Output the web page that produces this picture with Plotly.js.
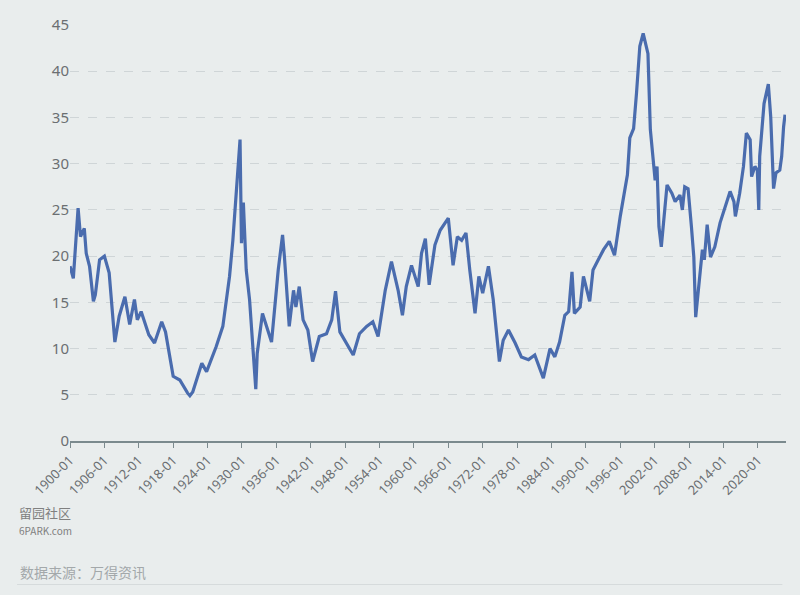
<!DOCTYPE html>
<html>
<head>
<meta charset="utf-8">
<script src="https://cdn.plot.ly/plotly-3.0.1.min.js"></script>
<style>
html,body{margin:0;padding:0;background:#e9eded;}
#chart{width:800px;height:595px;}
</style>
</head>
<body>
<div id="chart"></div>
<script>
const months = [
"1900-01","1900-04","1900-08","1900-11","1901-06","1901-11","1902-07","1902-11","1903-06","1904-02",
"1904-06","1905-03","1906-01","1906-11","1907-11","1908-08","1909-08","1910-06","1911-04","1911-10",
"1912-06","1913-10","1914-10","1916-01","1916-09","1918-01","1919-03","1920-07","1920-12","1921-06",
"1923-01","1923-11","1925-07","1926-09","1927-11","1928-06","1929-01","1929-04","1929-09","1929-12",
"1930-04","1930-10","1931-05","1932-06","1932-09","1933-08","1934-04","1935-03","1936-05","1937-02",
"1937-06","1938-04","1939-01","1939-06","1940-01","1940-09","1941-07","1942-05","1943-07","1944-10",
"1945-09","1946-05","1947-02","1948-04","1949-06","1950-07","1951-10","1952-11","1953-10","1955-01",
"1956-02","1957-04","1958-01","1958-09","1959-08","1960-10","1961-05","1962-01","1962-09","1963-09",
"1964-08","1966-01","1966-04","1966-11","1967-08","1968-05","1969-02","1969-10","1970-09","1971-05",
"1972-01","1973-01","1973-11","1974-12","1975-08","1976-07","1977-09","1978-10","1980-01","1981-02",
"1982-08","1983-10","1984-08","1985-06","1986-05","1987-01","1987-08","1988-01","1989-01","1989-08",
"1990-09","1991-04","1992-03","1993-02","1994-02","1995-01","1996-01","1996-06","1997-04","1997-09",
"1998-05","1998-11","1999-06","2000-01","2000-06","2000-11","2001-04","2001-10","2002-02","2002-06",
"2002-10","2003-03","2003-08","2004-03","2005-01","2005-08","2006-06","2006-11","2007-04","2007-11",
"2008-06","2008-11","2009-03","2009-10","2010-05","2010-09","2011-03","2011-10","2012-07","2013-06",
"2014-02","2015-03","2015-11","2016-02","2016-11","2017-07","2018-01","2018-09","2018-12","2019-07",
"2019-12","2020-03","2020-05","2021-02","2021-11","2022-04","2022-10","2023-03","2023-11","2024-03",
"2024-07","2024-10"
];
const cape = [
18.9,18.3,17.6,19.9,25.2,22.1,23.0,20.3,18.9,15.1,
15.8,19.6,20.0,18.2,10.7,13.5,15.6,12.6,15.3,13.1,
14.0,11.5,10.6,12.9,11.8,7.0,6.6,5.2,4.9,5.3,
8.4,7.5,10.2,12.4,17.8,21.7,26.5,28.2,32.6,21.4,
25.8,18.5,15.3,5.6,9.5,13.8,12.4,10.7,18.5,22.3,
19.9,12.4,16.3,14.5,16.7,13.1,12.0,8.6,11.3,11.6,
13.1,16.2,11.8,10.6,9.3,11.6,12.4,12.9,11.3,16.3,
19.4,16.3,13.6,16.7,19.0,16.7,20.3,21.9,16.9,21.2,
22.8,24.1,22.5,19.0,22.1,21.7,22.5,18.5,13.8,17.8,
16.0,18.9,15.3,8.6,10.9,12.0,10.6,9.1,8.8,9.3,
6.8,10.0,9.1,10.7,13.6,14.0,18.3,13.8,14.5,17.8,
15.1,18.5,19.6,20.7,21.6,20.1,24.3,25.9,28.8,32.8,
33.8,37.6,42.7,44.1,43.0,41.9,33.7,30.4,28.2,29.7,
23.2,21.0,23.9,27.7,26.8,25.9,26.6,25.0,27.5,27.3,
23.2,19.9,13.4,17.1,20.7,19.6,23.4,19.9,21.0,23.6,
25.0,27.0,25.9,24.3,26.8,29.7,33.3,32.6,28.6,29.7,
29.3,25.0,30.8,36.5,38.6,35.1,27.3,29.0,29.3,30.8,
34.0,35.3
];
const yTicks = [0,5,10,15,20,25,30,35,40,45];
const sourceText = "数据来源：万得资讯";
const watermarkText = "留园社区<br><span style='font-size:10px'>6PARK.com</span>";

const fontFam = "'Noto Sans', 'Noto Sans CJK SC', sans-serif";

Plotly.newPlot("chart", [{
  x: months.map(m => m + "-01"),
  y: cape,
  type: "scatter",
  mode: "lines",
  line: {color: "#4a6cae", width: 3.2},
  hoverinfo: "skip"
}], {
  width: 800, height: 595,
  paper_bgcolor: "#e9eded",
  plot_bgcolor: "#e9eded",
  margin: {l: 70, r: 14, t: 25, b: 154},
  showlegend: false,
  font: {family: fontFam, color: "#6b6f72"},
  xaxis: {
    type: "date",
    range: ["1900-01-01", "2024-12-01"],
    tick0: "1900-01-01",
    dtick: "M72",
    tickformat: "%Y-%m",
    tickangle: -45,
    ticks: "outside",
    ticklen: 5,
    tickwidth: 1,
    tickcolor: "#7b8a8e",
    showline: true,
    linecolor: "#7b8a8e",
    linewidth: 1.5,
    showgrid: false,
    zeroline: false,
    tickfont: {size: 13, color: "#6b6f72", family: fontFam}
  },
  yaxis: {
    range: [0, 45],
    tickvals: yTicks,
    ticktext: yTicks.map(String),
    showgrid: true,
    gridcolor: "#cfd5d7",
    griddash: "dash",
    gridwidth: 1,
    zeroline: false,
    showline: false,
    ticks: "",
    tickfont: {size: 15, color: "#6b6f72", family: fontFam}
  },
  annotations: [
    {text: sourceText, xref: "paper", yref: "paper", x: -0.072, y: -0.315, xanchor: "left", yanchor: "middle",
     showarrow: false, font: {size: 14, color: "#a3a8aa", family: "'Noto Sans CJK SC', sans-serif"}},
    {text: watermarkText, xref: "paper", yref: "paper", x: -0.074, y: -0.19, xanchor: "left", yanchor: "middle",
     align: "left", showarrow: false, font: {size: 13, color: "#808080", family: "'Noto Sans CJK SC', sans-serif"}}
  ],
  shapes: [
    {type: "line", xref: "paper", yref: "paper", x0: -0.074, x1: 0.995, y0: -0.345, y1: -0.345,
     line: {color: "#d6dbdc", width: 1}}
  ]
}, {staticPlot: true});
</script>
</body>
</html>
